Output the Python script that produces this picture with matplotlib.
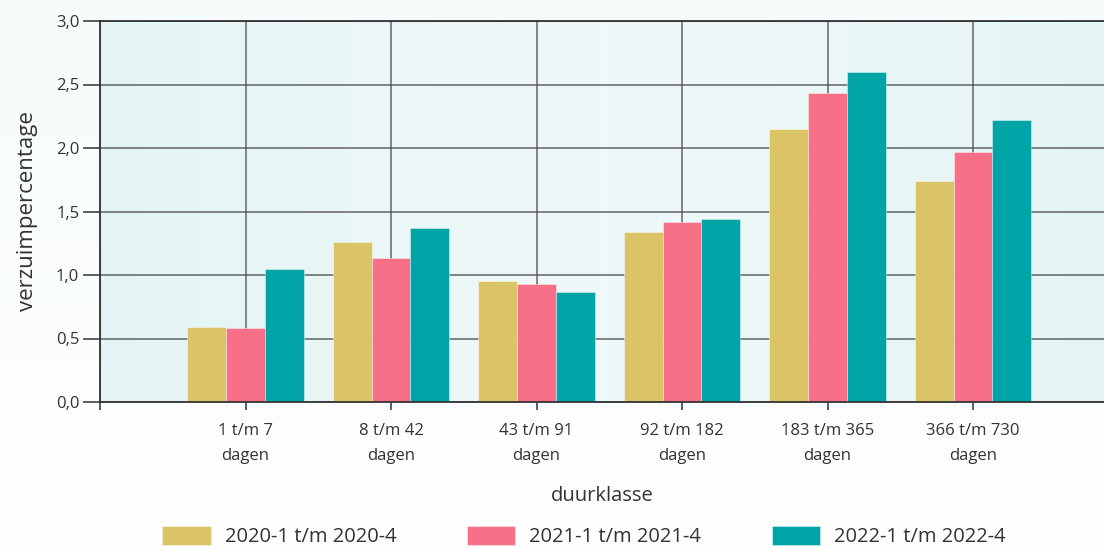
import numpy as np
import matplotlib
matplotlib.use("Agg")
import matplotlib.pyplot as plt
from matplotlib.colors import LinearSegmentedColormap

categories = ["1 t/m 7\ndagen", "8 t/m 42\ndagen", "43 t/m 91\ndagen",
              "92 t/m 182\ndagen", "183 t/m 365\ndagen", "366 t/m 730\ndagen"]
series_names = ["2020-1 t/m 2020-4", "2021-1 t/m 2021-4", "2022-1 t/m 2022-4"]
s2020 = [0.59, 1.26, 0.95, 1.34, 2.15, 1.74]
s2021 = [0.58, 1.13, 0.93, 1.42, 2.43, 1.97]
s2022 = [1.05, 1.37, 0.87, 1.44, 2.60, 2.22]
colors = ["#dbc466", "#f86f88", "#00a4a7"]
yticks = [0.0, 0.5, 1.0, 1.5, 2.0, 2.5, 3.0]
ytick_labels = ["0,0", "0,5", "1,0", "1,5", "2,0", "2,5", "3,0"]

plt.rcParams['font.family'] = ['Open Sans', 'DejaVu Sans']
text_color = "#333333"

fig = plt.figure(figsize=(11.04, 5.48), dpi=100)
fig.patch.set_facecolor("white")

# figure background gradient (slight tint at top)
bg = fig.add_axes([0, 0, 1, 1], zorder=-10)
bg.axis("off")
grad = np.linspace(0, 1, 256).reshape(-1, 1)
cmap_bg = LinearSegmentedColormap.from_list("bg", ["#f6fbfc", "#ffffff"])
bg.imshow(grad, aspect="auto", cmap=cmap_bg, extent=[0, 1, 0, 1], origin="upper")

ax = fig.add_axes([100/1104, 146/548, 1 - 100/1104, (402-21)/548])
ax.set_xlim(0, 6.9)
ax.set_ylim(0, 3.0)

# axes background gradient
hgrad = np.linspace(0, 1, 512)
hgrad = 1 - np.abs(hgrad - 0.5) * 2
cmap_ax = LinearSegmentedColormap.from_list("ax", ["#e4f4f4", "#f0f9fa"])
ax.imshow(hgrad.reshape(1, -1), aspect="auto", cmap=cmap_ax,
          extent=[0, 6.9, 0, 3.0], zorder=0)

x = np.arange(1, len(categories) + 1)
w = 0.8 / 3
for i, (vals, c, name) in enumerate(zip([s2020, s2021, s2022], colors, series_names)):
    ax.bar(x + (i - 1) * w, vals, width=w, color=c, label=name, zorder=3,
           edgecolor=(1, 1, 1, 0.5), linewidth=0.6)

ax.set_yticks(yticks)
ax.set_yticklabels(ytick_labels)
ax.set_xticks([0] + list(x))
ax.set_xticklabels([""] + categories, linespacing=1.75)
ax.grid(True, color="#4a4a4a", linewidth=1.1, alpha=0.85, zorder=1)
ax.set_axisbelow(True)

for s in ["left", "bottom", "top"]:
    ax.spines[s].set_color("#333333")
    ax.spines[s].set_linewidth(1.3)
ax.spines["right"].set_visible(False)
ax.spines["left"].set_zorder(4)
ax.spines["bottom"].set_zorder(4)

ax.tick_params(axis="y", length=12, width=1.1, color="#333333", labelsize=12,
               labelcolor=text_color, pad=3)
ax.tick_params(axis="x", length=6, width=1.1, color="#333333", labelsize=12,
               labelcolor=text_color, pad=9)

ax.set_ylabel("verzuimpercentage", fontsize=16, color=text_color, labelpad=13)
ax.set_xlabel("duurklasse", fontsize=14.5, color=text_color, labelpad=16)

handles, labels = ax.get_legend_handles_labels()
leg = fig.legend(handles, labels, loc="lower center", ncol=3,
                 bbox_to_anchor=(0.529, -0.032), frameon=False,
                 fontsize=14.5, handlelength=2.4, handleheight=1.1,
                 columnspacing=3.5, handletextpad=0.7)
for t in leg.get_texts():
    t.set_color(text_color)

fig.savefig("out.png", dpi=100, facecolor=fig.get_facecolor())
